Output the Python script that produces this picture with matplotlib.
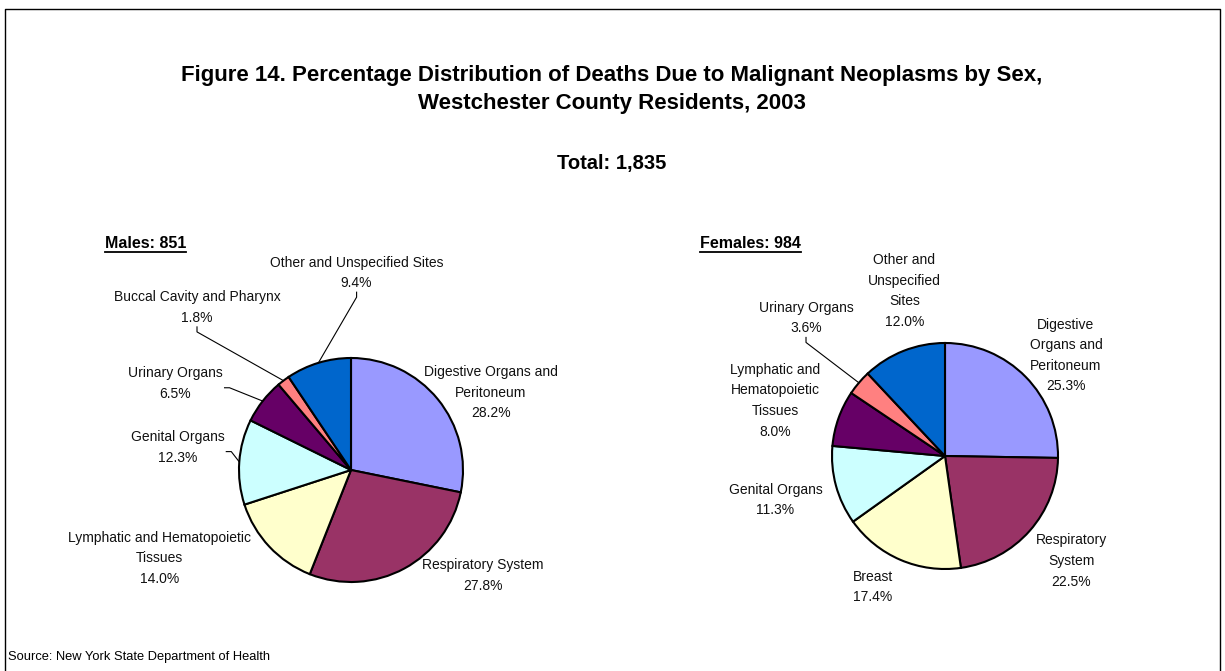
import numpy as np
import matplotlib
matplotlib.use("agg")
import matplotlib.pyplot as plt

plt.rcParams['font.family'] = ['Liberation Sans', 'DejaVu Sans']

# data
male_sites = ["Digestive Organs and\nPeritoneum", "Respiratory System",
              "Lymphatic and Hematopoietic\nTissues", "Genital Organs",
              "Urinary Organs", "Buccal Cavity and Pharynx",
              "Other and Unspecified Sites"]
male_pct = [28.2, 27.8, 14.0, 12.3, 6.5, 1.8, 9.4]

female_sites = ["Digestive\nOrgans and\nPeritoneum", "Respiratory\nSystem",
                "Breast", "Genital Organs", "Lymphatic and\nHematopoietic\nTissues",
                "Urinary Organs", "Other and\nUnspecified\nSites"]
female_pct = [25.3, 22.5, 17.4, 11.3, 8.0, 3.6, 12.0]

male_colors = ["#9999FF", "#993366", "#FFFFCC", "#CCFFFF", "#660066", "#FF8080", "#0066CC"]
female_colors = ["#9999FF", "#993366", "#FFFFCC", "#CCFFFF", "#660066", "#FF8080", "#0066CC"]

# label offsets (in pie radii) and which ones get leader lines
male_lab = [(1.25, 0.69), (1.18, -0.94), (-1.71, -0.79), (-1.55, 0.20),
            (-1.57, 0.77), (-1.375, 1.45), (0.05, 1.76)]
male_lead = [None, None, None, "side", "side", "below", "below"]
female_lab = [(1.07, 0.89), (1.12, -0.93), (-0.64, -1.16), (-1.50, -0.39),
              (-1.50, 0.49), (-1.23, 1.22), (-0.36, 1.46)]
female_lead = [None, None, None, None, None, "below", None]

W, H = 1225, 671
fig = plt.figure(figsize=(W / 100, H / 100), dpi=100)
ax = fig.add_axes([0, 0, 1, 1])
ax.set_xlim(0, W)
ax.set_ylim(0, H)
ax.set_aspect('equal')
ax.axis('off')

def Y(y):
    return H - y

# frame
ax.plot([5, 5, 1220, 1220], [Y(680), Y(9), Y(9), Y(680)], color='black', lw=1)

ax.text(612, Y(75), "Figure 14. Percentage Distribution of Deaths Due to Malignant Neoplasms by Sex,",
        ha='center', va='center', fontsize=16, fontweight='bold')
ax.text(612, Y(103), "Westchester County Residents, 2003",
        ha='center', va='center', fontsize=16, fontweight='bold')
ax.text(612, Y(163), "Total: 1,835", ha='center', va='center', fontsize=14.5, fontweight='bold')

fig.canvas.draw()
rend = fig.canvas.get_renderer()
for x0, s in [(105, "Males: 851"), (700, "Females: 984")]:
    t = ax.text(x0, Y(243), s, ha='left', va='center', fontsize=11.5, fontweight='bold')
    bb = t.get_window_extent(rend)
    ax.plot([bb.x0, bb.x1], [bb.y0 - 1, bb.y0 - 1], color='black', lw=1.3)

ax.text(8, Y(657), "Source: New York State Department of Health", ha='left', va='center', fontsize=9.3)


def draw_pie(cx, cy, r, pct, names, colors, labs, leads):
    wedges, _ = ax.pie(pct, colors=colors, startangle=90, counterclock=False,
                       center=(cx, Y(cy)), radius=r, frame=True,
                       wedgeprops=dict(edgecolor='black', linewidth=1.5))
    for w, p, n, (fx, fy), ld in zip(wedges, pct, names, labs, leads):
        lx, ly = cx + fx * r, Y(cy) + fy * r
        txt = ax.text(lx, ly, "%s\n%.1f%%" % (n, p), ha='center', va='center',
                      fontsize=10, linespacing=1.6, color='#111111')
        if ld is None:
            continue
        mid = np.deg2rad((w.theta1 + w.theta2) / 2)
        ex, ey = cx + r * np.cos(mid), Y(cy) + r * np.sin(mid)
        bb = txt.get_window_extent(rend)
        if ld == "below":
            sx, sy = lx, bb.y0 - 2
            ax.plot([sx, sx, ex], [sy, sy - 5, ey], color='black', lw=0.8)
        else:
            sx, sy = bb.x1 + 2, ly - 4
            ax.plot([sx, sx + 5, ex], [sy, sy, ey], color='black', lw=0.8)


draw_pie(351, 470, 112, male_pct, male_sites, male_colors, male_lab, male_lead)
draw_pie(945, 456, 113, female_pct, female_sites, female_colors, female_lab, female_lead)

ax.set_xlim(0, W)
ax.set_ylim(0, H)
ax.axis('off')

fig.savefig("out.png", dpi=100, facecolor='white')
